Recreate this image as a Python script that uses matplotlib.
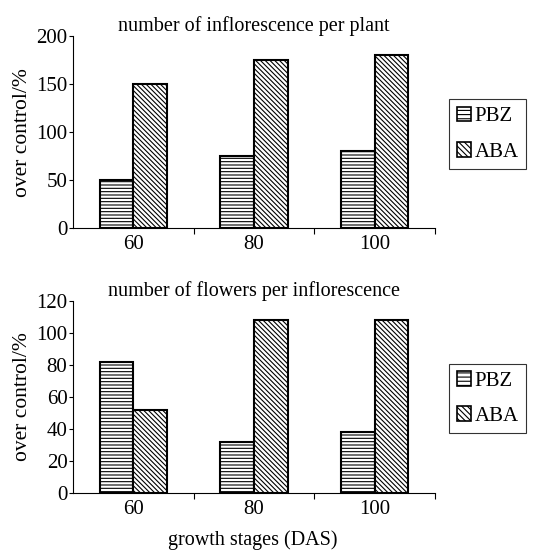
import matplotlib
matplotlib.use("Agg")
import matplotlib.pyplot as plt
import numpy as np
from matplotlib.patches import Patch

plt.rcParams['font.family'] = ['Liberation Serif', 'DejaVu Serif']
plt.rcParams['hatch.linewidth'] = 0.8

stages = ["60", "80", "100"]
series = ["PBZ", "ABA"]
infl_pbz = [50, 75, 80]
infl_aba = [150, 175, 180]
flow_pbz = [82, 32, 38]
flow_aba = [52, 108, 108]
titles = ["number of inflorescence per plant", "number of flowers per inflorescence"]
xlabel = "growth stages (DAS)"
ylabel = "over control/%"

fig = plt.figure(figsize=(5.57, 5.58), dpi=100)
ax1 = fig.add_axes([0.131, 0.591, 0.650, 0.344])
ax2 = fig.add_axes([0.131, 0.117, 0.650, 0.344])

hatches = ['-----', '\\' * 7]
fs_tick = 15
fs_title = 14.5

def draw(ax, pbz, aba, title, ymax, step):
    x = np.arange(len(stages))
    w = 0.28
    for i, (vals, h) in enumerate(zip([pbz, aba], hatches)):
        ax.bar(x + (i - 0.5) * w, vals, width=w, color='white', edgecolor='black',
               hatch=h, linewidth=1.5, label=series[i])
    ax.set_xlim(-0.5, 2.5)
    ax.set_ylim(0, ymax)
    ax.set_yticks(np.arange(0, ymax + 1, step))
    ax.set_xticks(x)
    ax.set_xticklabels(stages, fontsize=fs_tick)
    ax.set_xticks([0.5, 1.5, 2.5], minor=True)
    ax.tick_params(axis='x', which='major', length=0, pad=5)
    ax.tick_params(axis='x', which='minor', length=4, width=0.8, direction='out')
    ax.tick_params(axis='y', length=3, width=0.8, direction='out', labelsize=fs_tick, pad=1)
    for s in ['top', 'right']:
        ax.spines[s].set_visible(False)
    for s in ['left', 'bottom']:
        ax.spines[s].set_linewidth(0.8)
    ax.set_title(title, fontsize=fs_title, pad=3)
    ax.set_ylabel(ylabel, fontsize=15.5, labelpad=3)
    handles = [Patch(facecolor='white', edgecolor='black', hatch=hh, linewidth=1.2)
               for hh in ['----', '\\' * 6]]
    leg = ax.legend(handles, series, loc='center left', bbox_to_anchor=(1.04, 0.49),
                    fontsize=fs_tick, frameon=True, fancybox=False, edgecolor='black',
                    handlelength=0.7, handleheight=0.7, handletextpad=0.15,
                    borderpad=0.35, labelspacing=0.75, borderaxespad=0)
    leg.get_frame().set_linewidth(0.8)

draw(ax1, infl_pbz, infl_aba, titles[0], 200, 50)
draw(ax2, flow_pbz, flow_aba, titles[1], 120, 20)
fig.text(0.453, 0.032, xlabel, ha='center', va='center', fontsize=fs_title)

fig.savefig("out.png", dpi=100)
